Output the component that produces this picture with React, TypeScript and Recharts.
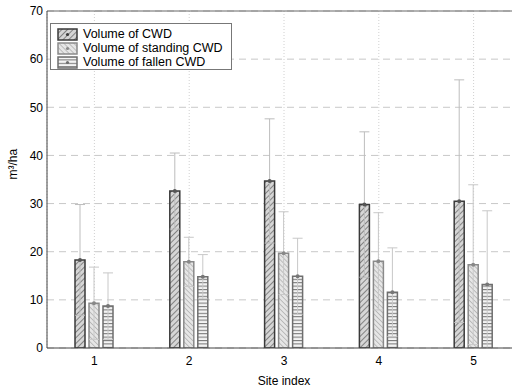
import React from "react";
import {
  ComposedChart,
  Bar,
  ErrorBar,
  XAxis,
  YAxis,
  CartesianGrid,
  ReferenceLine,
} from "recharts";

const sites = ["1", "2", "3", "4", "5"];
const cwd = [18.3, 32.6, 34.7, 29.8, 30.5];
const cwdErr = [11.5, 7.9, 12.9, 15.1, 25.2];
const standing = [9.3, 17.9, 19.7, 18.0, 17.3];
const standingErr = [7.5, 5.1, 8.6, 10.1, 16.6];
const fallen = [8.7, 14.8, 14.9, 11.6, 13.2];
const fallenErr = [6.9, 4.6, 7.9, 9.2, 15.3];
const yTicks = [0, 10, 20, 30, 40, 50, 60, 70];

const legendItems = [
  { label: "Volume of CWD", fill: "url(#hatchCwd)", stroke: "#3a3a3a" },
  { label: "Volume of standing CWD", fill: "url(#hatchStanding)", stroke: "#8a8a8a" },
  { label: "Volume of fallen CWD", fill: "url(#hatchFallen)", stroke: "#6e6e6e" },
];

const FONT = "'Liberation Sans', Arial, sans-serif";

const data = sites.map((s, i) => ({
  site: s,
  cwd: cwd[i],
  cwdErr: cwdErr[i],
  standing: standing[i],
  standingErr: standingErr[i],
  fallen: fallen[i],
  fallenErr: fallenErr[i],
}));

// whiskers stop at the x axis (the original plot clips them at 0)
const clampedErr = (valKey: string, errKey: string) => (d: any) => [
  Math.min(d[errKey], d[valKey]),
  d[errKey],
];

function Patterns() {
  return (
    <defs>
      <pattern id="hatchCwd" width="4" height="4" patternUnits="userSpaceOnUse" patternTransform="rotate(45)">
        <rect width="4" height="4" fill="#d6d6d6" />
        <line x1="0" y1="0" x2="0" y2="4" stroke="#555" strokeWidth="1.3" />
      </pattern>
      <pattern id="hatchStanding" width="3.5" height="3.5" patternUnits="userSpaceOnUse" patternTransform="rotate(-45)">
        <rect width="3.5" height="3.5" fill="#e6e6e6" />
        <line x1="0" y1="0" x2="0" y2="3.5" stroke="#9a9a9a" strokeWidth="1.1" />
      </pattern>
      <pattern id="hatchFallen" width="4" height="3.4" patternUnits="userSpaceOnUse">
        <rect width="4" height="3.4" fill="#f4f4f4" />
        <line x1="0" y1="0.5" x2="4" y2="0.5" stroke="#777" strokeWidth="1.1" />
      </pattern>
    </defs>
  );
}

const topDot = (color: string) => (props: any) => {
  const { x, y, width } = props;
  return <circle cx={Number(x) + Number(width) / 2} cy={Number(y)} r={2} fill={color} />;
};

function LegendBox() {
  return (
    <div
      style={{
        position: "absolute",
        left: 50,
        top: 23,
        background: "#fff",
        border: "1px solid #777",
        width: 182,
        height: 47,
        padding: "3px 0 0 6px",
        boxSizing: "border-box",
        fontFamily: FONT,
        fontSize: 12.5,
        color: "#000",
      }}
    >
      {legendItems.map((it) => (
        <div key={it.label} style={{ display: "flex", alignItems: "center", height: 14 }}>
          <svg width={22} height={13} style={{ marginRight: 4 }}>
            <rect x={1} y={1} width={19} height={11} fill={it.fill} stroke={it.stroke} strokeWidth={1.5} />
            <circle cx={10.5} cy={6.5} r={1.6} fill={it.stroke} />
          </svg>
          <span>{it.label}</span>
        </div>
      ))}
    </div>
  );
}

export default function App() {
  return (
    <div style={{ position: "absolute", left: 0, top: 0, width: 512, height: 388, overflow: "hidden", background: "#fff" }}>
      <ComposedChart
        width={521}
        height={388}
        data={data}
        margin={{ top: 11, right: 0, left: 7, bottom: 0 }}
        barGap={4}
      >
        <Patterns />
        <CartesianGrid horizontal={true} vertical={false} stroke="#c8c8c8" strokeDasharray="7 5" />
        <CartesianGrid horizontal={false} vertical={true} stroke="#d0d0d0" strokeDasharray="1 2" />
        <XAxis
          dataKey="site"
          height={40}
          tickLine={false}
          tickSize={0}
          tickMargin={8}
          stroke="#444"
          tick={{ fill: "#000", fontSize: 12, fontFamily: FONT }}
          label={{ value: "Site index", position: "insideBottom", offset: 3, fill: "#000", fontSize: 12, fontFamily: FONT }}
        />
        <YAxis
          width={40}
          domain={[0, 70]}
          allowDataOverflow
          ticks={yTicks}
          tickLine={false}
          tickSize={0}
          tickMargin={4}
          stroke="#444"
          tick={{ fill: "#000", fontSize: 12, fontFamily: FONT }}
          label={{ value: "m³/ha", angle: -90, position: "insideLeft", offset: 6, fill: "#000", fontSize: 12, fontFamily: FONT }}
        />
        <ReferenceLine y={70} stroke="#666" />
        <Bar dataKey="cwd" barSize={10} fill="url(#hatchCwd)" stroke="#3a3a3a" strokeWidth={1.5} isAnimationActive={false} label={topDot("#555")}>
          <ErrorBar dataKey={clampedErr("cwd", "cwdErr")} width={5} stroke="#bdbdbd" strokeWidth={1} direction="y" />
        </Bar>
        <Bar dataKey="standing" barSize={10} fill="url(#hatchStanding)" stroke="#8a8a8a" strokeWidth={1.5} isAnimationActive={false} label={topDot("#888")}>
          <ErrorBar dataKey={clampedErr("standing", "standingErr")} width={5} stroke="#c8c8c8" strokeWidth={1} direction="y" />
        </Bar>
        <Bar dataKey="fallen" barSize={10} fill="url(#hatchFallen)" stroke="#6e6e6e" strokeWidth={1.5} isAnimationActive={false} label={topDot("#777")}>
          <ErrorBar dataKey={clampedErr("fallen", "fallenErr")} width={5} stroke="#c8c8c8" strokeWidth={1} direction="y" />
        </Bar>
      </ComposedChart>
      <LegendBox />
    </div>
  );
}
